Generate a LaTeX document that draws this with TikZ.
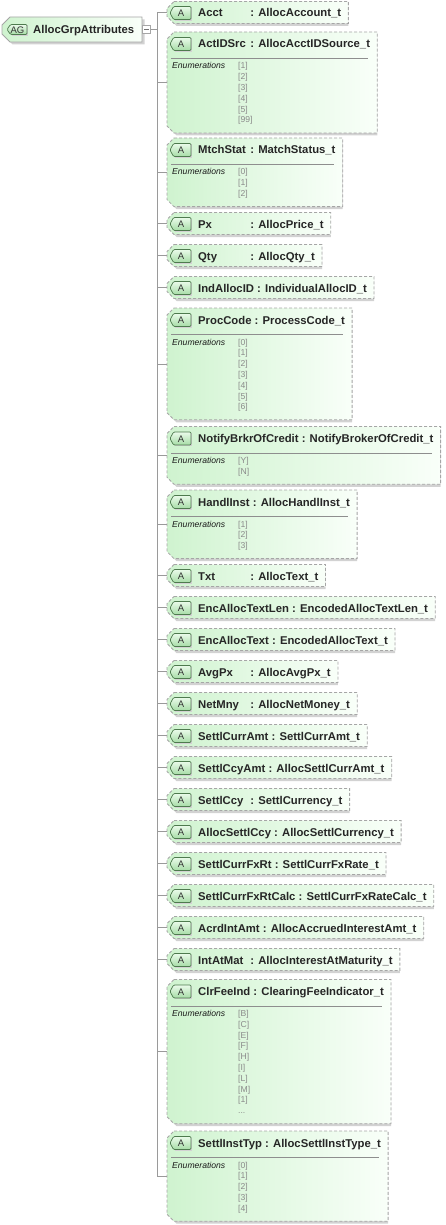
\documentclass[tikz,border=0pt]{standalone}
\usepackage{fontspec}
\setmainfont{Liberation Sans}
\usetikzlibrary{calc}
\definecolor{bordc}{HTML}{A6A6A6}
\definecolor{lineC}{HTML}{9A9A9A}
\definecolor{gA}{HTML}{CFF3CF}
\definecolor{gB}{HTML}{F9FFF9}
\definecolor{shadC}{HTML}{D2D2D2}
\definecolor{badgeB}{HTML}{4E7A4E}
\definecolor{badgeF1}{HTML}{EAFBEA}
\definecolor{badgeF2}{HTML}{A6DCA6}
\definecolor{enumC}{HTML}{8A8A8A}
\definecolor{sepC}{HTML}{8E8E8E}
\tikzset{
 hdr/.style={inner sep=0pt, anchor=base west, font=\fontsize{11.3}{13}\selectfont\bfseries, text=black!85},
 enuml/.style={inner sep=0pt, anchor=base west, font=\fontsize{8.6}{10}\selectfont\itshape, text=black!90},
 enumv/.style={inner sep=0pt, anchor=base west, font=\fontsize{8.6}{10}\selectfont, text=enumC},
 conn/.style={draw=lineC, line width=0.8pt},
 dbox/.style={draw=bordc, line width=0.8pt, dash pattern=on 3pt off 2pt, left color=gA, right color=gB},
 rbox/.style={draw=bordc, line width=0.8pt, left color=gA, right color=gB},
 sepl/.style={draw=sepC, line width=0.6pt},
 badge/.style={draw=badgeB, line width=0.7pt, top color=badgeF1, bottom color=badgeF2, rounded corners=1.2pt},
 badgetxt/.style={inner sep=0pt, font=\fontsize{9.5}{10}\selectfont, text=black!80},
 colbox/.style={draw=bordc, fill=white, minimum size=7.5pt, inner sep=0pt, line width=0.7pt},
}
\newbox\nmbox
\newcommand\nmpad[1]{\setbox\nmbox\hbox{#1}\ifdim\wd\nmbox<49pt\hbox to 49pt{#1\hfil}\else\box\nmbox\fi}
\newcommand\abadge[2]{%
 \fill[shadC] (175,#2-5.5) -- (192.3,#2-5.5) -- (192.3,#2+7.8) -- (175,#2+7.8) -- cycle;
 \draw[badge] (191,#2-6.5) -- (173.5,#2-6.5) -- (170,#2) -- (173.5,#2+6.5) -- (191,#2+6.5) -- cycle;
 \node[badgetxt] (#1b) at (181,#2+0.3) {A};
}
\newcommand\sattr[4]{%
 \node[hdr] (#1) at (198,#2+4) {\phantom{\nmpad{#3} : #4}};
 \fill[shadC, shift={(2.5,2.5)}] let \p1=(#1.east) in (174,#2-11.5) -- (\x1+7pt,#2-11.5) -- (\x1+7pt,#2+10.5) -- (174,#2+10.5) -- (167,#2+3.5) -- (167,#2-4.5) -- cycle;
 \draw[dbox] let \p1=(#1.east) in (174,#2-11.5) -- (\x1+7pt,#2-11.5) -- (\x1+7pt,#2+10.5) -- (174,#2+10.5) -- (167,#2+3.5) -- (167,#2-4.5) -- cycle;
 \abadge{#1}{#2}
 \node[hdr] (#1x) at (#1.base west) {\nmpad{#3} : #4};
 \coordinate (#1L) at (167,#2-0.5);
 \coordinate (#1J) at (157,#2-0.5);
 \draw[conn] (#1J) -- (#1L);
}
\newcommand\mattr[6]{%
 \pgfmathsetmacro\attrbot{#2+24.2+10.8*#5}%
 \pgfmathsetmacro\attrmid{(#2-12+\attrbot)/2}%
 \node[hdr] (#1) at (198,#2+4) {\phantom{\nmpad{#3} : #4}};
 \fill[shadC, shift={(2.5,2.5)}] let \p1=(#1.east) in (174,#2-12) -- (\x1+7pt,#2-12) -- (\x1+7pt,\attrbot) -- (174,\attrbot) -- (167,\attrbot-7) -- (167,#2-5) -- cycle;
 \draw[dbox] let \p1=(#1.east) in (174,#2-12) -- (\x1+7pt,#2-12) -- (\x1+7pt,\attrbot) -- (174,\attrbot) -- (167,\attrbot-7) -- (167,#2-5) -- cycle;
 \draw[sepl] let \p1=(#1.east) in (171,#2+14.5) -- (\x1-2pt,#2+14.5);
 \abadge{#1}{#2}
 \node[hdr] (#1x) at (#1.base west) {\nmpad{#3} : #4};
 \node[enuml] (#1e) at (172,#2+25) {Enumerations};
 \foreach \e [count=\i from 0] in {#6} {\node[enumv] (#1v\i) at (238,#2+25+10.8*\i) {[\e]};}
 \coordinate (#1L) at (167,\attrmid);
 \coordinate (#1J) at (157,\attrmid);
 \draw[conn] (#1J) -- (#1L);
}
\begin{document}
\begin{tikzpicture}[x=1pt,y=-1pt]
\useasboundingbox (0,0) rectangle (445,1225);
% root
\fill[shadC] (12.5,19.5) -- (144.5,19.5) -- (144.5,44.5) -- (12.5,44.5) -- (4.5,36.5) -- (4.5,27.5) -- cycle;
\draw[rbox] (10,17) -- (142,17) -- (142,42) -- (10,42) -- (2,34) -- (2,25) -- cycle;
\fill[shadC] (12,25.5) -- (28.3,25.5) -- (28.3,35.8) -- (12,35.8) -- cycle;
\draw[badge] (27,24.5) -- (10.5,24.5) -- (7,29.5) -- (10.5,34.5) -- (27,34.5) -- cycle;
\node[badgetxt] (agb) at (17.5,29.8) {AG};
\node[hdr] (root) at (33,33.5) {AllocGrpAttributes};
\node[colbox] (col) at (146.5,29.5) {};
\draw[draw=black!55, line width=0.6pt] (col.west) ++(1.6,0) -- ($(col.east)+(-1.6,0)$);
\coordinate (rootJ) at (157,29.5);
\draw[conn] (col.east) -- (rootJ);
% attributes
\sattr{a1}{13}{Acct}{AllocAccount\_t}
\mattr{a2}{44}{ActIDSrc}{AllocAcctIDSource\_t}{6}{1,2,3,4,5,99}
\mattr{a3}{150}{MtchStat}{MatchStatus\_t}{3}{0,1,2}
\sattr{a4}{224}{Px}{AllocPrice\_t}
\sattr{a5}{256}{Qty}{AllocQty\_t}
\sattr{a6}{288}{IndAllocID}{IndividualAllocID\_t}
\mattr{a7}{320}{ProcCode}{ProcessCode\_t}{7}{0,1,2,3,4,5,6}
\mattr{a8}{438.5}{NotifyBrkrOfCredit}{NotifyBrokerOfCredit\_t}{2}{Y,N}
\mattr{a9}{502}{HandlInst}{AllocHandlInst\_t}{3}{1,2,3}
\sattr{a10}{576}{Txt}{AllocText\_t}
\sattr{a11}{608}{EncAllocTextLen}{EncodedAllocTextLen\_t}
\sattr{a12}{640}{EncAllocText}{EncodedAllocText\_t}
\sattr{a13}{672}{AvgPx}{AllocAvgPx\_t}
\sattr{a14}{704}{NetMny}{AllocNetMoney\_t}
\sattr{a15}{736}{SettlCurrAmt}{SettlCurrAmt\_t}
\sattr{a16}{768}{SettlCcyAmt}{AllocSettlCurrAmt\_t}
\sattr{a17}{800}{SettlCcy}{SettlCurrency\_t}
\sattr{a18}{832}{AllocSettlCcy}{AllocSettlCurrency\_t}
\sattr{a19}{864}{SettlCurrFxRt}{SettlCurrFxRate\_t}
\sattr{a20}{896}{SettlCurrFxRtCalc}{SettlCurrFxRateCalc\_t}
\sattr{a21}{928}{AcrdIntAmt}{AllocAccruedInterestAmt\_t}
\sattr{a22}{960}{IntAtMat}{AllocInterestAtMaturity\_t}
\mattr{a23}{991.5}{ClrFeeInd}{ClearingFeeIndicator\_t}{10}{B,C,E,F,H,I,L,M,1}
\node[enumv] (a23dots) at (238,991.5+25+97.2) {...};
\mattr{a24}{1143}{SettlInstTyp}{AllocSettlInstType\_t}{5}{0,1,2,3,4}
% trunk
\draw[conn] (a1J) -- (a24J);
\end{tikzpicture}
\end{document}
